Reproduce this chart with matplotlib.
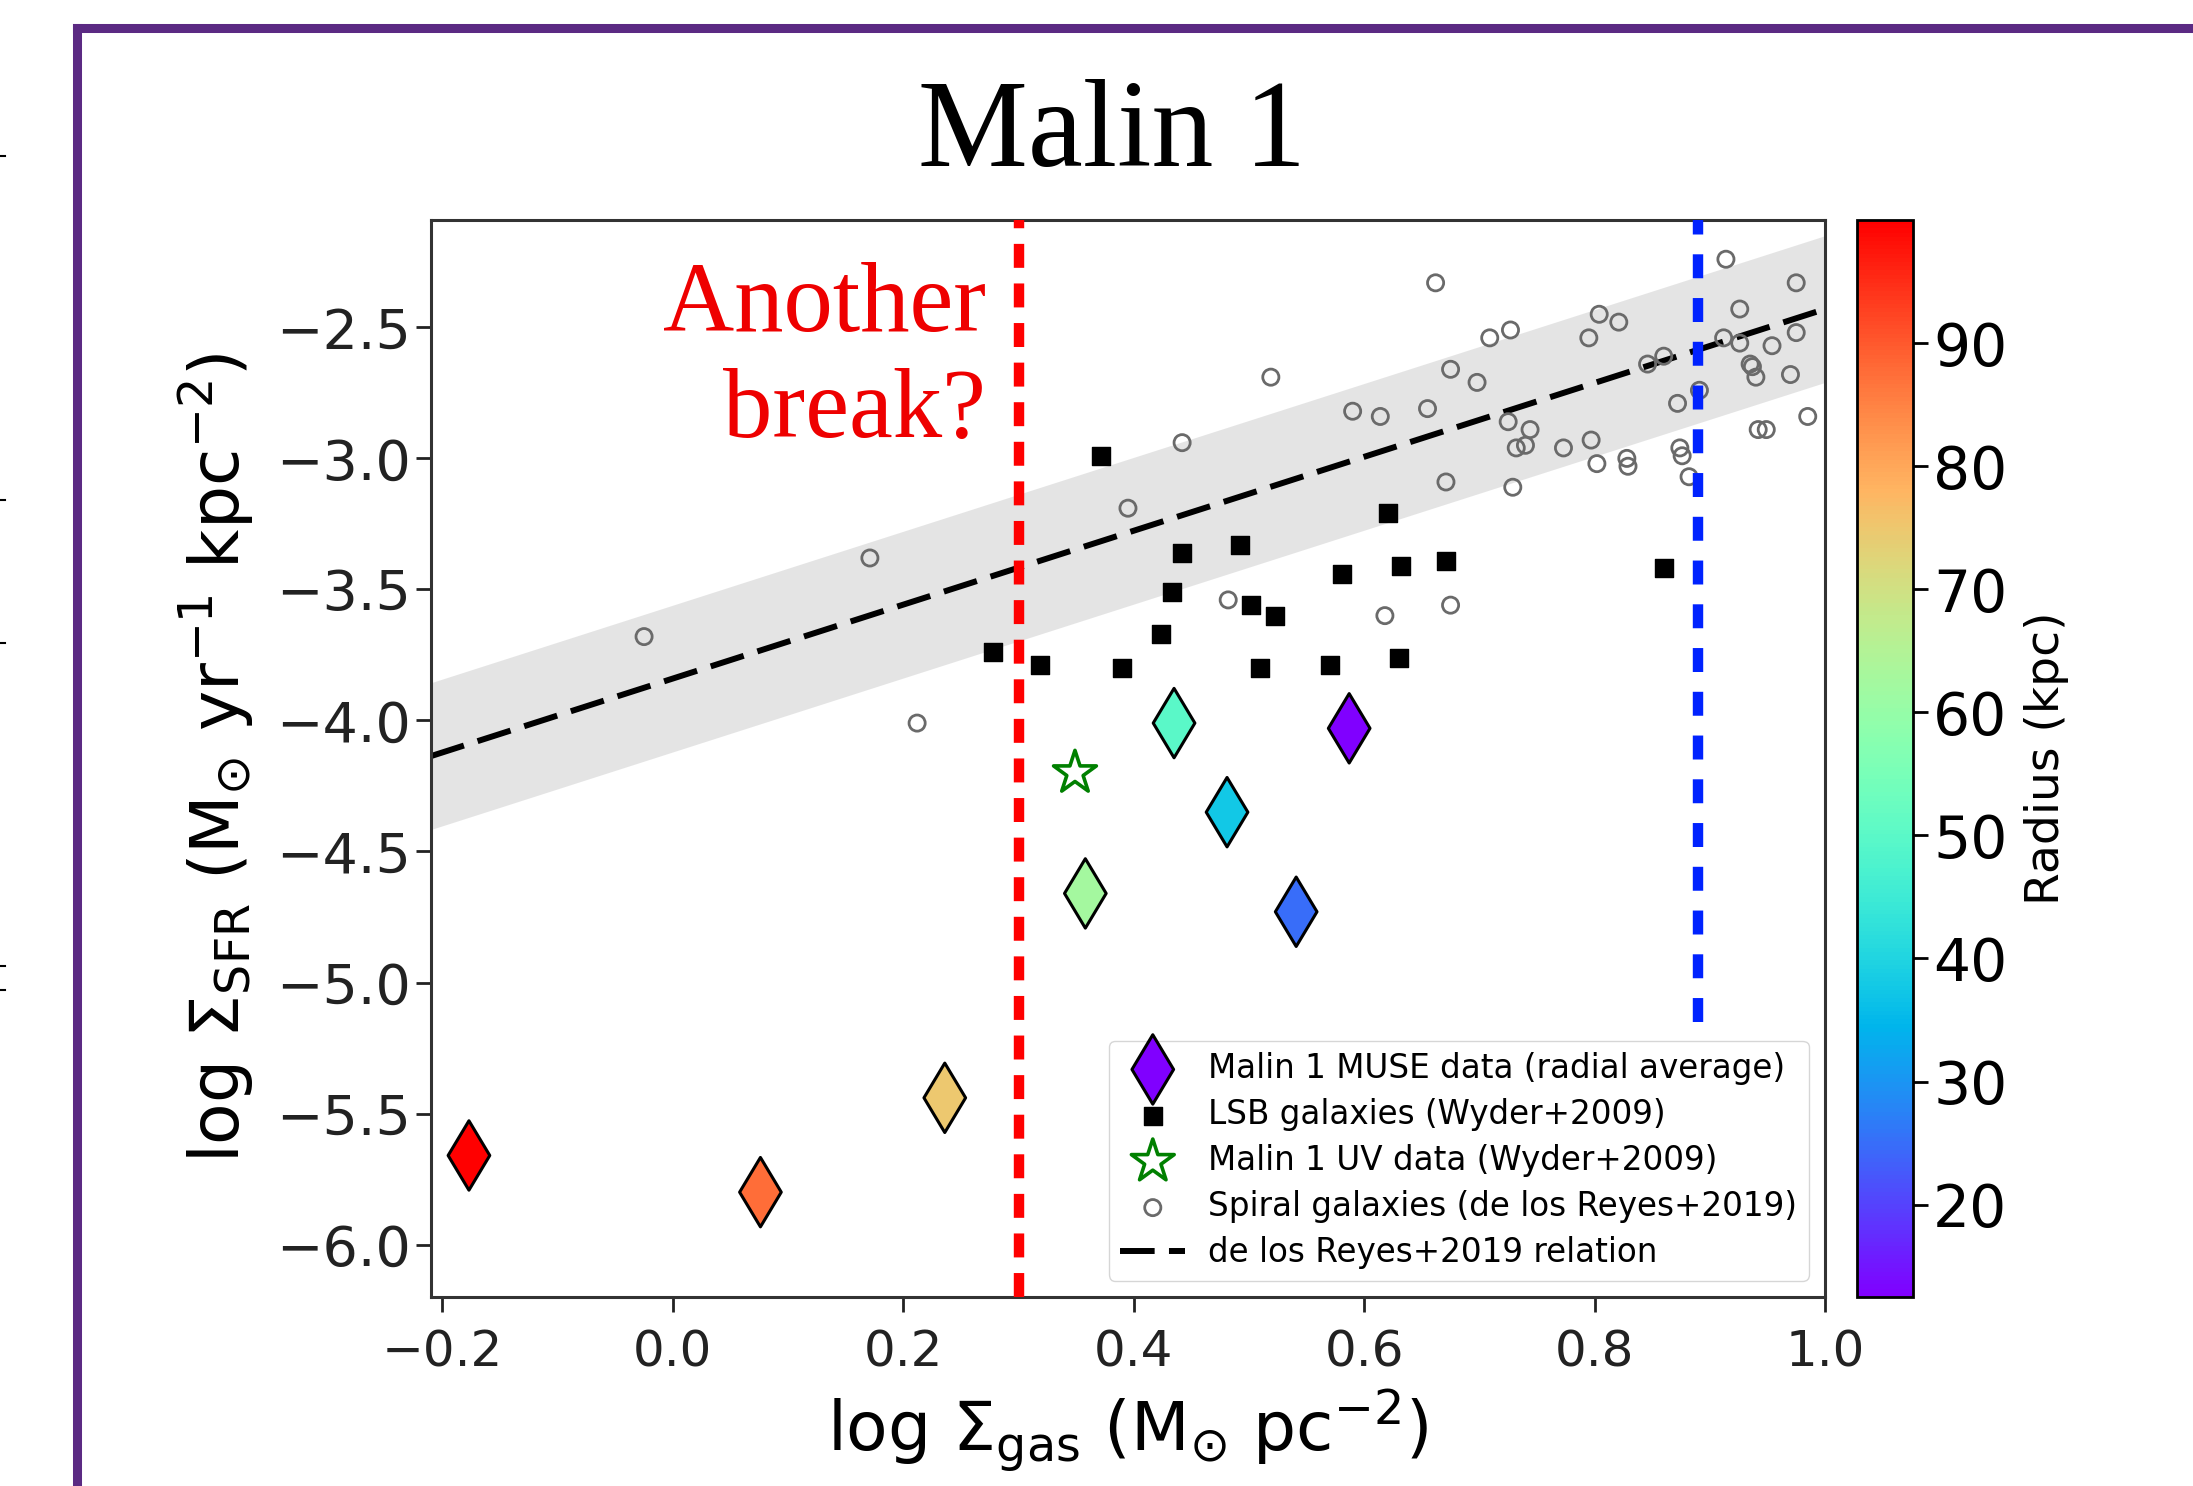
import matplotlib
matplotlib.use("Agg")
import matplotlib.pyplot as plt
import numpy as np
from matplotlib.lines import Line2D

plt.rcParams["font.family"] = ["DejaVu Sans"]
plt.rcParams["mathtext.default"] = "regular"

# Malin 1 MUSE radial averages (inner -> outer)
muse_gas = [0.587, 0.541, 0.481, 0.435, 0.358, 0.236, 0.076, -0.177]
muse_sfr = [-4.03, -4.73, -4.35, -4.01, -4.66, -5.44, -5.80, -5.66]
muse_radius = [12.5, 25.0, 37.5, 50.0, 62.5, 75.0, 87.5, 100.0]

# LSB galaxies (Wyder+2009)
lsb_gas = [0.372, 0.278, 0.319, 0.390, 0.433, 0.442, 0.424, 0.492, 0.502,
           0.523, 0.510, 0.570, 0.581, 0.621, 0.632, 0.630, 0.671, 0.860]
lsb_sfr = [-2.99, -3.74, -3.79, -3.80, -3.51, -3.36, -3.67, -3.33, -3.56,
           -3.60, -3.80, -3.79, -3.44, -3.21, -3.41, -3.76, -3.39, -3.42]

# Malin 1 UV point (Wyder+2009)
uv_gas = [0.349]
uv_sfr = [-4.20]

# Spiral galaxies (de los Reyes+2019)
spiral_gas = [-0.025, 0.171, 0.212, 0.395, 0.442, 0.482, 0.519, 0.590, 0.614,
              0.618, 0.655, 0.662, 0.671, 0.675, 0.675, 0.698, 0.709, 0.725,
              0.727, 0.729, 0.732, 0.740, 0.744, 0.773, 0.795, 0.797, 0.802,
              0.804, 0.821, 0.828, 0.829, 0.846, 0.860, 0.872, 0.874, 0.876,
              0.882, 0.891, 0.912, 0.914, 0.926, 0.926, 0.935, 0.937, 0.940,
              0.942, 0.949, 0.954, 0.970, 0.975, 0.975, 0.985]
spiral_sfr = [-3.68, -3.38, -4.01, -3.19, -2.94, -3.54, -2.69, -2.82, -2.84,
              -3.60, -2.81, -2.33, -3.09, -2.66, -3.56, -2.71, -2.54, -2.86,
              -2.51, -3.11, -2.96, -2.95, -2.89, -2.96, -2.54, -2.93, -3.02,
              -2.45, -2.48, -3.00, -3.03, -2.64, -2.61, -2.79, -2.96, -2.99,
              -3.07, -2.74, -2.54, -2.24, -2.43, -2.56, -2.64, -2.65, -2.69,
              -2.89, -2.89, -2.57, -2.68, -2.33, -2.52, -2.84]

# de los Reyes+2019 relation: slope, intercept, scatter
kslope, kint, kscatter = 1.41, -3.84, 0.28

# "break" markers
red_break = 0.30
blue_break = 0.89
blue_bottom = -5.15

XLIM = (-0.21, 1.0)
YLIM = (-6.2, -2.09)

fig = plt.figure(figsize=(21.93, 14.86), dpi=100)

# slide frame + stray marks on the left
fig.add_artist(Line2D([77 / 2193, 77 / 2193], [0, 1 - 28 / 1486], color="#5b2a83",
                      lw=6.5, transform=fig.transFigure, solid_capstyle="projecting"))
fig.add_artist(Line2D([77 / 2193, 1], [1 - 28 / 1486, 1 - 28 / 1486], color="#5b2a83",
                      lw=6.5, transform=fig.transFigure, solid_capstyle="projecting"))
for yy in [156, 500, 643, 966, 990]:
    fig.add_artist(Line2D([0, 5 / 2193], [1 - yy / 1486] * 2, color="black", lw=1.5,
                          transform=fig.transFigure))

ax = fig.add_axes([0.1965, 0.1272, 0.6357, 0.7248])
cax = fig.add_axes([0.8468, 0.1272, 0.0255, 0.7248])

xx = np.array(XLIM)
ax.fill_between(xx, kslope * xx + kint - kscatter, kslope * xx + kint + kscatter,
                color="lightgray", alpha=0.6, lw=0, zorder=1)
ax.plot(xx, kslope * xx + kint, color="black", lw=4.3, dashes=(5.8, 2.4), zorder=2,
        label="de los Reyes+2019 relation")

ax.scatter(spiral_gas, spiral_sfr, s=135, marker="o", facecolors="none",
           edgecolors="#6a6a6a", linewidths=2.0, zorder=3,
           label="Spiral galaxies (de los Reyes+2019)")
ax.scatter(lsb_gas, lsb_sfr, s=175, marker="s", color="black", zorder=4,
           label="LSB galaxies (Wyder+2009)")
sc = ax.scatter(muse_gas, muse_sfr, c=muse_radius, cmap="rainbow", s=1250,
                marker="d", edgecolors="black", linewidths=2.2, zorder=5,
                label="Malin 1 MUSE data (radial average)")
ax.scatter(uv_gas, uv_sfr, s=1050, marker="*", facecolors="none",
           edgecolors="green", linewidths=2.6, zorder=5,
           label="Malin 1 UV data (Wyder+2009)")

ax.plot([red_break, red_break], YLIM, color="#ff0000", lw=7.5, dashes=(2.3, 1.5), zorder=6)
ax.plot([blue_break, blue_break], [blue_bottom, YLIM[1]], color="#0022ff", lw=7.5,
        dashes=(2.3, 1.9), zorder=6)

ax.text(0.272, -2.625, "Another\nbreak?", color="#ee0000", ha="right", va="center",
        fontsize=71, family="Liberation Serif", linespacing=1.24, zorder=7)

ax.set_xlim(XLIM)
ax.set_ylim(YLIM)
ax.set_xticks([-0.2, 0.0, 0.2, 0.4, 0.6, 0.8, 1.0])
ax.set_yticks([-6.0, -5.5, -5.0, -4.5, -4.0, -3.5, -3.0, -2.5])
ax.tick_params(labelsize=36, length=11, width=2, direction="out", colors="#222222")
ax.tick_params(axis="x", pad=12)
ax.tick_params(axis="y", labelsize=40)
for sp in ax.spines.values():
    sp.set_linewidth(2.2)
    sp.set_color("#333333")

ax.set_xlabel(r"log $\Sigma_{gas}$ (M$_{\odot}$ pc$^{-2}$)", fontsize=49, labelpad=7)
ax.set_ylabel(r"log $\Sigma_{SFR}$ (M$_{\odot}$ yr$^{-1}$ kpc$^{-2}$)", fontsize=49, labelpad=14)

handles, labels = ax.get_legend_handles_labels()
order = [3, 2, 4, 1, 0]
ax.legend([handles[i] for i in order], [labels[i] for i in order], loc="lower right",
          fontsize=23.5, scatterpoints=1, handlelength=2.0, borderaxespad=0.5,
          labelspacing=0.4, handletextpad=0.7, borderpad=0.35)

cb = fig.colorbar(sc, cax=cax)
cb.set_ticks([20, 30, 40, 50, 60, 70, 80, 90])
cb.ax.tick_params(labelsize=42, length=11, width=2)
cb.outline.set_linewidth(2)
cb.set_label("Radius (kpc)", fontsize=34, labelpad=12)

fig.text(1112 / 2193, 1 - 97 * 1.3986 / 1486, "Malin 1", ha="center", va="center",
         fontsize=89, family="Liberation Serif")

fig.savefig("out.png", dpi=100, facecolor="white")
